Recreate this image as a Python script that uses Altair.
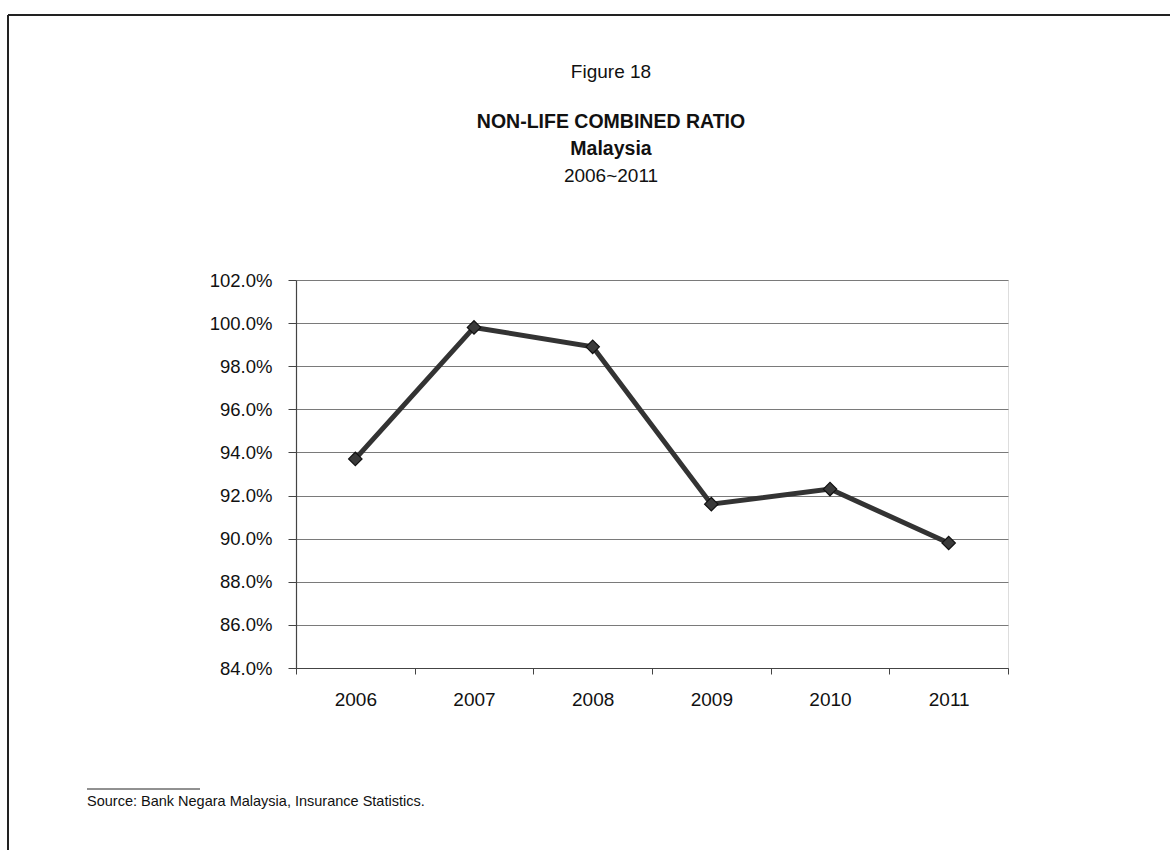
import altair as alt
import pandas as pd

years = [2006, 2007, 2008, 2009, 2010, 2011]
ratio = [0.937, 0.998, 0.989, 0.916, 0.923, 0.898]
y_ticks = [0.84, 0.86, 0.88, 0.90, 0.92, 0.94, 0.96, 0.98, 1.00, 1.02]
x_bounds = [2005.5, 2006.5, 2007.5, 2008.5, 2009.5, 2010.5, 2011.5]

fig_label = "Figure 18"
title_lines = ["NON-LIFE COMBINED RATIO", "Malaysia"]
subtitle = "2006~2011"
source = "Source: Bank Negara Malaysia, Insurance Statistics."

df = pd.DataFrame({"year": years, "ratio": ratio})
one = pd.DataFrame({"k": [0]})

SANS = "Liberation Sans, Arial"

W, H = 712, 388
L, T = 296, 280

xscale = alt.Scale(domain=[2005.5, 2011.5], nice=False, zero=False)
yscale = alt.Scale(domain=[0.84, 1.02], nice=False, zero=False)

yaxis = alt.Axis(values=y_ticks, format=".1%", title=None, grid=True,
                 gridColor="#7a7a7a", gridWidth=1, domainColor="#444",
                 domainWidth=1.2, tickColor="#444", tickSize=8,
                 labelPadding=16, labelFont=SANS, labelFontSize=18.5,
                 labelColor="#111")

line = alt.Chart(df).mark_line(color="#333", strokeWidth=5).encode(
    x=alt.X("year:Q", scale=xscale,
            axis=alt.Axis(values=x_bounds, labels=False, ticks=True,
                          tickSize=6, tickColor="#444", domainColor="#444",
                          domainWidth=1.2, grid=False, title=None,
                          orient="bottom")),
    y=alt.Y("ratio:Q", scale=yscale, axis=yaxis),
)

points = alt.Chart(df).mark_point(shape="diamond", filled=True, size=180,
                                  color="#3a3a3a", stroke="#111",
                                  strokeWidth=1.2, opacity=1).encode(
    x=alt.X("year:Q", scale=xscale,
            axis=alt.Axis(values=years, format="d", ticks=False, domain=False,
                          grid=False, title=None, orient="bottom",
                          labelPadding=22, labelFont=SANS,
                          labelFontSize=19, labelColor="#111")),
    y=alt.Y("ratio:Q", scale=yscale),
)

def txt(text, y, size, bold=False, font=SANS, x=315, align="center"):
    return alt.Chart(pd.DataFrame({"t": [text]})).mark_text(
        fontSize=size, font=font, fontWeight="bold" if bold else "normal",
        align=align, baseline="middle", color="#111").encode(
        text="t:N", x=alt.value(x), y=alt.value(y))

t0 = txt(fig_label, -208, 19)
t1 = txt(title_lines[0], -158, 19.5, bold=True)
t2 = txt(title_lines[1], -131, 19.5, bold=True)
t3 = txt(subtitle, -104, 19)
src = txt(source, 522, 14.5, x=-209, align="left")

frame_top = alt.Chart(one).mark_rule(color="#222", strokeWidth=2).encode(
    x=alt.value(-288), x2=alt.value(874), y=alt.value(-265))
frame_left = alt.Chart(one).mark_rule(color="#222", strokeWidth=2).encode(
    x=alt.value(-288), y=alt.value(-265), y2=alt.value(580))
sep = alt.Chart(one).mark_rule(color="#222", strokeWidth=1).encode(
    x=alt.value(-209), x2=alt.value(-96), y=alt.value(509))

chart = alt.layer(line, points, t0, t1, t2, t3, src, frame_top, frame_left, sep).resolve_axis(
    x="independent"
).properties(
    width=W, height=H,
    autosize=alt.AutoSizeParams(type="none"),
    padding={"left": L, "top": T, "right": 1173 - L - W, "bottom": 850 - T - H},
).configure_view(stroke=None).configure(background="white")

chart.save("out.html", embed_options={"renderer": "svg", "actions": False})
